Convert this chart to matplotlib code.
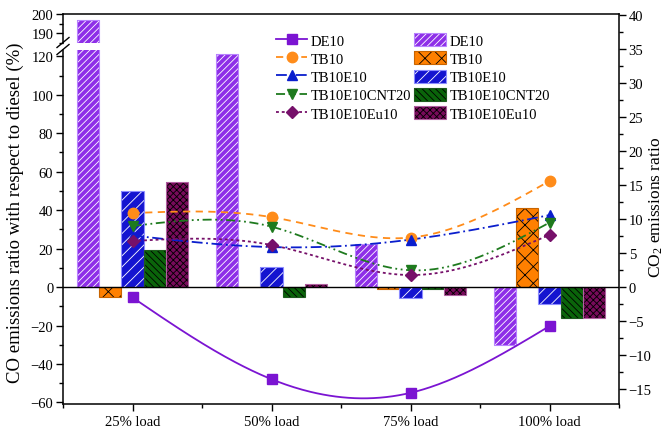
import numpy as np
import matplotlib
matplotlib.use("Agg")
import matplotlib.pyplot as plt
import matplotlib.patches as mpatches
from matplotlib.lines import Line2D

# ---- data ----
loads = ["25% load", "50% load", "75% load", "100% load"]
series = ["DE10", "TB10", "TB10E10", "TB10E10CNT20", "TB10E10Eu10"]

# CO emissions ratio with respect to diesel (%) -> bars, left axis
co_DE10 = [197, 121, 22.3, -30]
co_TB10 = [-5.2, 0.3, -1.0, 41]
co_TB10E10 = [50.2, 10.5, -5.7, -9.0]
co_CNT20 = [19.4, -5.2, -1.2, -16]
co_Eu10 = [54.9, 1.7, -4.2, -16]

# CO2 emissions ratio -> lines, right axis
co2_DE10 = [-1.5, -13.5, -15.5, -5.7]
co2_TB10 = [10.9, 10.3, 7.3, 15.6]
co2_TB10E10 = [7.6, 5.9, 7.0, 10.6]
co2_CNT20 = [9.0, 8.9, 2.5, 9.5]
co2_Eu10 = [6.8, 6.2, 1.8, 7.7]

co_vals = [co_DE10, co_TB10, co_TB10E10, co_CNT20, co_Eu10]
co2_vals = [co2_DE10, co2_TB10, co2_TB10E10, co2_CNT20, co2_Eu10]

# ---- styles ----
bar_fc = ["#8E2FE8", "#FF8000", "#1414D0", "#0A640A", "#780A5A"]
bar_hc = ["white", "black", "white", "black", "black"]
bar_ec = ["#B883FF", "#C86400", "#8C8CFF", "#1E5A1E", "#B060A0"]
bar_hatch = ["/////", "xx", "///", "\\\\\\\\\\", "xxxxx"]

line_c = ["#7B14D2", "#FF8C1A", "#0A1ECD", "#1E7A1E", "#76106A"]
line_m = ["s", "o", "^", "v", "D"]
line_ms = [6.5, 7.5, 7.5, 7.5, 6.5]
line_dash = [None, (4, 3), (6, 2, 1, 2), (5, 2, 1, 2, 1, 2), (1.6, 1.6)]


def natural_spline(x, y, n=200):
    x = np.asarray(x, float)
    y = np.asarray(y, float)
    k = len(x)
    h = np.diff(x)
    A = np.zeros((k, k))
    r = np.zeros(k)
    A[0, 0] = A[-1, -1] = 1
    for i in range(1, k - 1):
        A[i, i - 1] = h[i - 1]
        A[i, i] = 2 * (h[i - 1] + h[i])
        A[i, i + 1] = h[i]
        r[i] = 3 * ((y[i + 1] - y[i]) / h[i] - (y[i] - y[i - 1]) / h[i - 1])
    c = np.linalg.solve(A, r)
    b = (y[1:] - y[:-1]) / h - h * (2 * c[:-1] + c[1:]) / 3
    d = (c[1:] - c[:-1]) / (3 * h)
    xs = np.linspace(x[0], x[-1], n)
    idx = np.clip(np.searchsorted(x, xs) - 1, 0, k - 2)
    dx = xs - x[idx]
    ys = y[idx] + b[idx] * dx + c[idx] * dx ** 2 + d[idx] * dx ** 3
    return xs, ys


plt.rcParams["font.family"] = ["Liberation Serif", "DejaVu Serif"]
plt.rcParams["mathtext.default"] = "regular"
plt.rcParams["hatch.linewidth"] = 0.6

W, H = 667, 431
fig = plt.figure(figsize=(W / 100, H / 100), dpi=100)


def rect(left, top, right, bottom):
    return [left / W, 1 - bottom / H, (right - left) / W, (bottom - top) / H]


ax_bot = fig.add_axes(rect(63, 51, 619, 405))
ax_top = fig.add_axes(rect(63, 15, 619, 44.3))
ax_r = fig.add_axes(rect(63, 15, 619, 405))
ax_r.patch.set_visible(False)

x = np.arange(1, len(loads) + 1)
w = 0.16
for ax in (ax_bot, ax_top):
    for i in range(len(series)):
        xi = x + (i - 2) * w
        ax.bar(xi, co_vals[i], w, color=bar_fc[i], edgecolor=bar_hc[i],
               hatch=bar_hatch[i], linewidth=0, zorder=2)
        ax.bar(xi, co_vals[i], w, fill=False, edgecolor=bar_ec[i],
               linewidth=0.8, zorder=3)
    ax.set_xlim(0.5, 4.5)

ax_bot.axhline(0, color="black", lw=1.0, zorder=4)

ax_bot.set_ylim(-60.8, 123.3)
ax_top.set_ylim(184.6, 200)
ax_bot.set_yticks(np.arange(-60, 121, 20))
ax_bot.set_yticks(np.arange(-60, 121, 10), minor=True)
ax_top.set_yticks([190, 200])
ax_top.set_yticks([185, 195], minor=True)

ax_bot.set_xticks(x)
ax_bot.set_xticklabels(loads)
ax_bot.set_xticks(np.arange(0.5, 4.6, 1), minor=True)

for s in ("top", "right"):
    ax_bot.spines[s].set_visible(False)
for s in ("bottom", "right"):
    ax_top.spines[s].set_visible(False)
for s in ("left", "top", "bottom"):
    ax_r.spines[s].set_visible(False)
for ax in (ax_bot, ax_top, ax_r):
    for sp in ax.spines.values():
        sp.set_linewidth(1.1)

ax_top.tick_params(axis="x", which="both", bottom=False, labelbottom=False)
ax_r.tick_params(axis="x", which="both", bottom=False, labelbottom=False)
for ax in (ax_bot, ax_top):
    ax.tick_params(axis="y", which="major", direction="out", length=5, width=1, labelsize=10.5, pad=2)
    ax.tick_params(axis="y", which="minor", direction="out", length=3, width=1)
ax_bot.tick_params(axis="x", which="major", direction="out", length=5, width=1, labelsize=10.5, pad=3)
ax_bot.tick_params(axis="x", which="minor", direction="out", length=3, width=1)

# lines on the right axis
ax_r.yaxis.tick_right()
ax_r.set_xlim(0.5, 4.5)
ax_r.set_ylim(-17.14, 40.13)
ax_r.set_yticks(np.arange(-15, 41, 5))
ax_r.set_yticks(np.arange(-15, 41, 2.5), minor=True)
ax_r.tick_params(axis="y", which="major", direction="out", length=5, width=1, labelsize=10.5, pad=2)
ax_r.tick_params(axis="y", which="minor", direction="out", length=3, width=1)

line_handles = []
for i in range(len(series)):
    xs, ys = natural_spline(x, co2_vals[i])
    ln, = ax_r.plot(xs, ys, color=line_c[i], lw=1.3)
    if line_dash[i] is not None:
        ln.set_dashes(line_dash[i])
    ax_r.plot(x, co2_vals[i], ls="none", marker=line_m[i], ms=line_ms[i],
              color=line_c[i], zorder=5)
    h = Line2D([], [], color=line_c[i], lw=1.3, marker=line_m[i], ms=line_ms[i])
    if line_dash[i] is not None:
        h.set_dashes(line_dash[i])
    line_handles.append(h)

bar_handles = []
for i in range(len(series)):
    p1 = mpatches.Patch(facecolor=bar_fc[i], edgecolor=bar_hc[i], hatch=bar_hatch[i], linewidth=0)
    p2 = mpatches.Patch(fill=False, edgecolor=bar_ec[i], linewidth=0.8)
    bar_handles.append((p1, p2))

fig.legend(line_handles + bar_handles, series + series, ncol=2,
           loc="upper left", bbox_to_anchor=(276 / W, 1 - 34 / H),
           frameon=False, fontsize=10.5, handlelength=2.15, handleheight=1.0,
           handletextpad=0.25, labelspacing=0.26, columnspacing=0.2,
           borderpad=0, borderaxespad=0)

# axis break marks
for yc in (43.5, 50.5):
    fig.add_artist(Line2D([(63 - 6) / W, (63 + 6) / W],
                          [1 - (yc + 5) / H, 1 - (yc - 5) / H],
                          color="black", lw=1.0, transform=fig.transFigure))

fig.text(15 / W, 1 - 213 / H, "CO emissions ratio with respect to diesel (%)",
         rotation=90, ha="center", va="center", fontsize=13.5)
fig.text(656 / W, 1 - 207 / H, "CO$_2$ emissions ratio",
         rotation=90, ha="center", va="center", fontsize=12.5)

fig.savefig("out.png", dpi=100)
